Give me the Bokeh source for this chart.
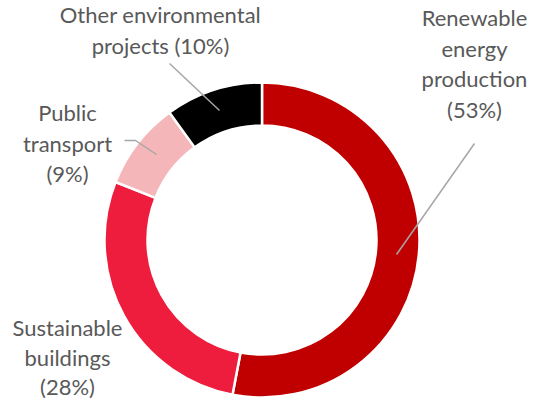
import math
from bokeh.plotting import figure
from bokeh.models import Range1d, ColumnDataSource
from bokeh.core.properties import value
from bokeh.embed import file_html
from bokeh.resources import INLINE

# ---- data ----
categories = ["Renewable energy production", "Sustainable buildings",
              "Public transport", "Other environmental projects"]
shares = [53, 28, 9, 10]
colors = ["#C00000", "#EE1C3D", "#F4B6B8", "#000000"]
label_texts = ["Renewable\nenergy\nproduction\n(53%)",
               "Sustainable\nbuildings\n(28%)",
               "Public\ntransport\n(9%)",
               "Other environmental\nprojects (10%)"]

# ---- layout (page pixel coordinates, y downward) ----
W, H = 534, 400
OFF = 8
def X(px):
    return px - OFF
def Y(py):
    return H - (py - OFF)

cx, cy = 269.5, 247.5
r_out, r_in = 157.5, 114.5

label_pos = [(482, 25), (75, 335), (75, 120), (168, 22)]
line_step = [30.7, 29.5, 30.5, 31.0]
leaders = [
    [(482, 151), (404, 262)],
    None,
    [(132, 148), (143, 148), (164, 162)],
    [(177, 71), (227, 118)],
]

p = figure(width=W, height=H, output_backend="svg", toolbar_location=None,
           x_range=Range1d(0, W), y_range=Range1d(0, H), min_border=0)
p.axis.visible = False
p.grid.visible = False
p.outline_line_color = None
p.background_fill_color = "white"
p.border_fill_color = "white"

total = sum(shares)
starts, ends = [], []
cum = 0
for s in shares:
    starts.append(math.pi / 2 - 2 * math.pi * cum / total)
    cum += s
    ends.append(math.pi / 2 - 2 * math.pi * cum / total)

src = ColumnDataSource(dict(x=[X(cx)] * len(shares), y=[Y(cy)] * len(shares),
                            start=starts, end=ends, color=colors, name=categories))
p.annular_wedge(x="x", y="y", inner_radius=r_in, outer_radius=r_out,
                inner_radius_units="screen", outer_radius_units="screen",
                start_angle="start", end_angle="end", direction="clock",
                fill_color="color", line_color="white", line_width=2.5, source=src)

# leader lines
for ld in leaders:
    if ld is None:
        continue
    p.line([X(a) for a, b in ld], [Y(b) for a, b in ld],
           line_color="#A6A6A6", line_width=1.5)

# labels
tx, ty, tt = [], [], []
for (lx, ly), step, txt in zip(label_pos, line_step, label_texts):
    for i, line in enumerate(txt.split("\n")):
        tx.append(X(lx))
        ty.append(Y(ly + i * step))
        tt.append(line)
p.text(x=tx, y=ty, text=tt, text_font=value("Lato"), text_font_size="22px",
       text_color="#595959", text_align="center", text_baseline="middle")

open("out.html", "w").write(file_html(p, INLINE))
